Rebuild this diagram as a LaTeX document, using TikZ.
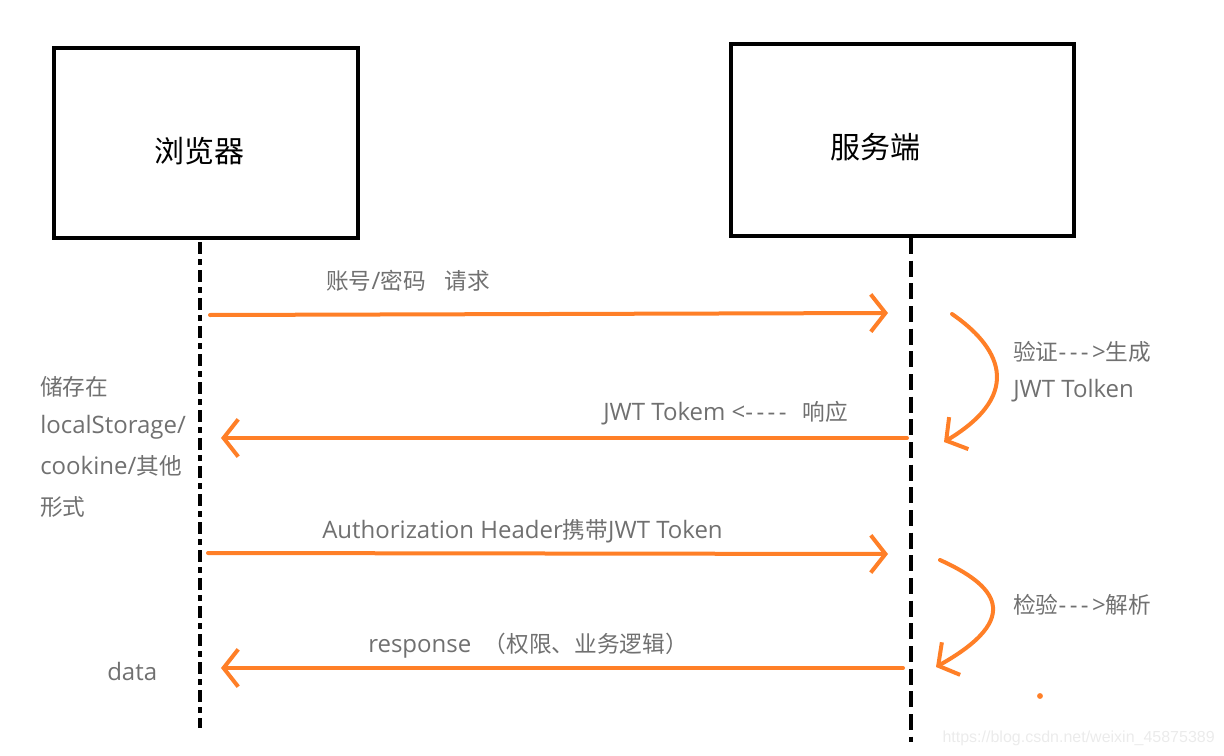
\documentclass[tikz,border=0pt]{standalone}
\usepackage{fontspec}
\setmainfont{Open Sans}
\newfontfamily\cjk{Noto Sans CJK SC}
\newfontfamily\wmfont{Liberation Sans}
\newcommand\dd{-\kern2.6pt}
\newcommand\zh[1]{{\cjk\fontsize{17}{21}\selectfont #1}}
\usetikzlibrary{arrows.meta}
\definecolor{arroworange}{HTML}{FF7F27}
\definecolor{labelgray}{HTML}{707070}
\definecolor{wmgray}{HTML}{EBEBEB}
\tikzset{
  actorbox/.style={draw=black, line width=3pt, inner sep=0pt},
  title/.style={font=\cjk\fontsize{22.5}{26}\selectfont, inner sep=0pt},
  leftlife/.style={draw=black, line width=3pt, dash pattern=on 9pt off 4pt on 4pt off 4pt},
  rightlife/.style={draw=black, line width=3pt, dash pattern=on 12pt off 5pt},
  msg/.style={draw=arroworange, line width=3pt, line cap=round, line join=round, -{Straight Barb[length=11pt,width=28pt,line width=3pt]}},
  note/.style={text=labelgray, font=\fontsize{18}{21}\selectfont, inner sep=0pt, anchor=west},
}
\begin{document}
\begin{tikzpicture}[x=0.75pt,y=-0.75pt]
\useasboundingbox (0,0) rectangle (1224,756);
% actors
\node[actorbox, minimum width=228pt, minimum height=142.5pt] (browser) at (206,143) {};
\node[actorbox, minimum width=257pt, minimum height=144pt] (server) at (902.5,140) {};
\node[title] (browserT) at (199,151) {浏览器};
\node[title] (serverT) at (875,147) {服务端};
% lifeline ends
\coordinate (bTop) at (200,242);
\coordinate (bBot) at (200,728);
\coordinate (sTop) at (911,238);
\coordinate (sBot) at (911,742);
\draw[leftlife] (bTop) -- (bBot);
\draw[rightlife] (sTop) -- (sBot);
% message anchors
\coordinate (m1s) at (210,315);
\coordinate (m1e) at (888,313);
\coordinate (m2s) at (907,438);
\coordinate (m2e) at (221,438);
\coordinate (m3s) at (208,553);
\coordinate (m3e) at (888,554);
\coordinate (m4s) at (903,668);
\coordinate (m4e) at (221,668);
\draw[msg] (m1s) -- (m1e);
\draw[msg] (m2s) -- (m2e);
\draw[msg] (m3s) -- (m3e);
\draw[msg] (m4s) -- (m4e);
% self loops
\coordinate (c1s) at (952,314);
\coordinate (c1e) at (944,442);
\coordinate (c2s) at (940,560);
\coordinate (c2e) at (936,667);
\draw[msg] (c1s) .. controls (997,345) and (1027,392) .. (c1e);
\draw[msg] (c2s) .. controls (995,585) and (1025,617) .. (c2e);
\fill[arroworange] (1040,696) circle (2.2pt);
% labels
\node[note] (l1) at (326,281) {\zh{账号}/\zh{密码}\ \ \ \zh{请求}};
\node[note] (l2) at (603,413) {JWT Tokem <\dd\dd\dd\dd\ \ \zh{响应}};
\node[note] (l3) at (322,531) {Authorization Header\zh{携带}JWT Token};
\node[note] (l4) at (368,646) {response\ \ \zh{（权限、业务逻辑）}};
\node[note] (v1) at (1013,352) {\zh{验证}\dd\dd\dd>\zh{生成}};
\node[note] (v2) at (1013,391) {JWT Tolken};
\node[note] (v3) at (1013,605) {\zh{检验}\dd\dd\dd>\zh{解析}};
\node[note] (s1) at (40,387) {\zh{储存在}};
\node[note] (s2) at (40,427) {localStorage/};
\node[note] (s3) at (40,466) {cookine/\zh{其他}};
\node[note] (s4) at (40,507) {\zh{形式}};
\node[note] (d) at (107,671) {data};
\node[text=wmgray, font=\wmfont\fontsize{12}{14}\selectfont, anchor=east, inner sep=0pt] (wm) at (1215,738) {https://blog.csdn.net/weixin\_45875389};
\end{tikzpicture}
\end{document}
